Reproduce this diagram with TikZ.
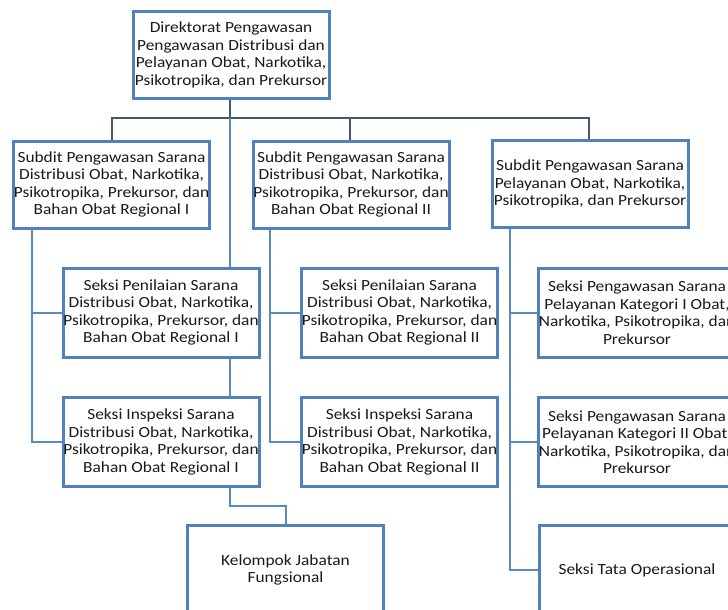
\documentclass[tikz,border=0pt]{standalone}
\usepackage{fontspec}
\setmainfont{Carlito}[FakeStretch=1.12]
\definecolor{boxblue}{HTML}{4F81BD}
\definecolor{linkblue}{HTML}{5A8AC3}
\definecolor{darklink}{HTML}{44596E}
\definecolor{txt}{HTML}{1A1A1A}
\tikzset{
  orgbox/.style={draw=boxblue, line width=3pt, fill=white, minimum width=196pt, minimum height=87pt,
    inner sep=0pt, align=center, text=txt, font=\fontsize{15.5}{17.5}\selectfont},
  tallbox/.style={orgbox, minimum height=89pt},
  toplink/.style={draw=darklink, line width=2pt},
  link/.style={draw=linkblue, line width=2pt},
}
\begin{document}
\begin{tikzpicture}[x=1pt,y=-1pt]
\useasboundingbox (0,0) rectangle (728,610);
\clip (0,0) rectangle (728,610);
\fill[white] (0,0) rectangle (728,610);
% nodes
\node[orgbox] (top) at (231,55) {Direktorat Pengawasan\\Pengawasan Distribusi dan\\Pelayanan Obat, Narkotika,\\Psikotropika, dan Prekursor};
\node[orgbox] (s1) at (111.5,184.5) {Subdit Pengawasan Sarana\\Distribusi Obat, Narkotika,\\Psikotropika, Prekursor, dan\\Bahan Obat Regional I};
\node[orgbox] (s2) at (351,184.5) {Subdit Pengawasan Sarana\\Distribusi Obat, Narkotika,\\Psikotropika, Prekursor, dan\\Bahan Obat Regional II};
\node[orgbox] (s3) at (590,184) {Subdit Pengawasan Sarana\\Pelayanan Obat, Narkotika,\\Psikotropika, dan Prekursor};
\node[tallbox] (p1) at (161,312.5) {Seksi Penilaian Sarana\\Distribusi Obat, Narkotika,\\Psikotropika, Prekursor, dan\\Bahan Obat Regional I};
\node[tallbox] (i1) at (161,442) {Seksi Inspeksi Sarana\\Distribusi Obat, Narkotika,\\Psikotropika, Prekursor, dan\\Bahan Obat Regional I};
\node[tallbox] (p2) at (399.5,312.5) {Seksi Penilaian Sarana\\Distribusi Obat, Narkotika,\\Psikotropika, Prekursor, dan\\Bahan Obat Regional II};
\node[tallbox] (i2) at (399.5,442) {Seksi Inspeksi Sarana\\Distribusi Obat, Narkotika,\\Psikotropika, Prekursor, dan\\Bahan Obat Regional II};
\node[tallbox] (k1) at (637,312.5) {Seksi Pengawasan Sarana\\Pelayanan Kategori I Obat,\\Narkotika, Psikotropika, dan\\Prekursor};
\node[tallbox] (k2) at (637,442) {Seksi Pengawasan Sarana\\Pelayanan Kategori II Obat,\\Narkotika, Psikotropika, dan\\Prekursor};
\node[tallbox, minimum height=90pt] (t) at (637,570) {Seksi Tata Operasional};
\node[tallbox, minimum height=90pt] (kel) at (285.5,570) {Kelompok Jabatan\\Fungsional};
% connectors
\coordinate (bus) at (230,118);
\draw[toplink] (top.south -| bus) -- (bus);
\draw[toplink] (bus) -| (s1.north);
\draw[toplink] (bus) -| ([xshift=-1pt]s2.north);
\draw[toplink] (bus) -| ([xshift=-1pt]s3.north);
\draw[link] (bus) -- (bus |- p1.north);
\draw[link] (p1.south -| bus) -- (i1.north -| bus);
\draw[link] (i1.south -| bus) -- ++(0,18) -| (kel.north);
\coordinate (d1) at ([xshift=20pt]s1.south west);
\draw[link] (d1) |- (i1.west);
\draw[link] (d1 |- p1.west) -- (p1.west);
\coordinate (d2) at ([xshift=18pt]s2.south west);
\draw[link] (d2) |- (i2.west);
\draw[link] (d2 |- p2.west) -- (p2.west);
\coordinate (d3) at ([xshift=19pt]s3.south west);
\draw[link] (d3) |- (t.west);
\draw[link] (d3 |- k1.west) -- (k1.west);
\draw[link] (d3 |- k2.west) -- (k2.west);
\end{tikzpicture}
\end{document}
